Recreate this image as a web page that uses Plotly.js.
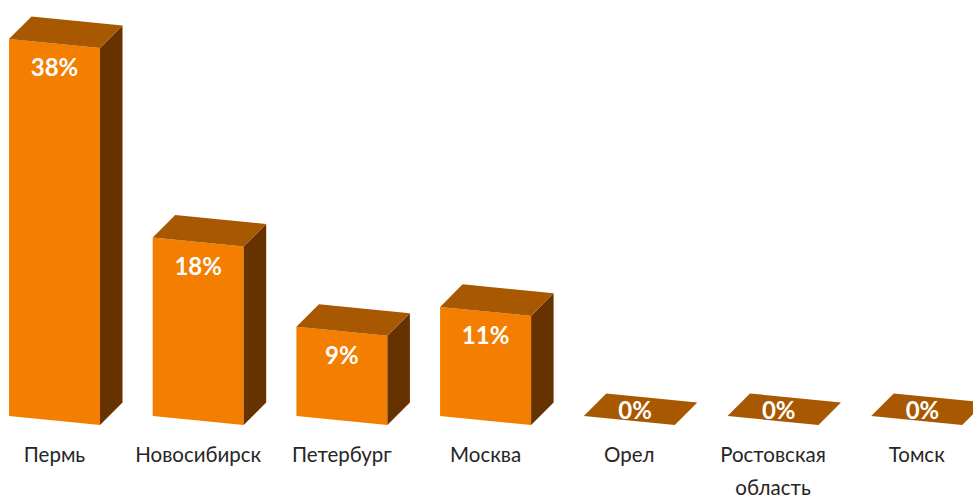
<!DOCTYPE html>
<html>
<head>
<meta charset="utf-8">
<script src="https://cdn.plot.ly/plotly-3.0.1.min.js"></script>
<style>html,body{margin:0;padding:0;background:#fff;overflow:hidden}#chart{width:973px;height:498px}</style>
</head>
<body>
<div id="chart"></div>
<script>
// Share of responses by city, in percent
const cities = ['Пермь', 'Новосибирск', 'Петербург', 'Москва', 'Орел', 'Ростовская<br>область', 'Томск'];
const shares = [38, 18, 9, 11, 0, 0, 0];
const valueLabels = ['38%', '18%', '9%', '11%', '0%', '0%', '0%'];

// Box projection, expressed in axis units
const halfWidth = 0.3166;     // half of the front face along x
const slant = 0.907;          // drop of the front face from left to right, y units
const depthX = 0.1566;        // depth offset along x
const depthY = 2.27;          // depth offset along y
const labelDrop = 2.7;        // value label below the top edge of the front face
const zeroLabelRise = 0.3;    // value label on an empty box
const zeroLabelShift = 0.04;

const positions = cities.map((_, i) => i);

// Collect polygons of one face into a single gap-separated path
function facePath(corners) {
  const xs = [], ys = [];
  positions.forEach((p, i) => {
    corners(p, shares[i]).forEach(c => { xs.push(c[0]); ys.push(c[1]); });
    xs.push(null); ys.push(null);
  });
  return {xs, ys};
}

const front = facePath((p, v) => [
  [p - halfWidth, 0], [p + halfWidth, -slant], [p + halfWidth, v - slant], [p - halfWidth, v]
]);
const side = facePath((p, v) => [
  [p + halfWidth, -slant], [p + halfWidth + depthX, -slant + depthY],
  [p + halfWidth + depthX, v - slant + depthY], [p + halfWidth, v - slant]
]);
const top_ = facePath((p, v) => [
  [p - halfWidth, v], [p + halfWidth, v - slant],
  [p + halfWidth + depthX, v - slant + depthY], [p - halfWidth + depthX, v + depthY]
]);

function faceTrace(path, color) {
  return {
    type: 'scatter', mode: 'lines', x: path.xs, y: path.ys,
    fill: 'toself', fillcolor: color,
    line: {width: 0, color: color},
    hoverinfo: 'skip', showlegend: false
  };
}

const labelX = positions.map((p, i) => shares[i] > 0 ? p : p + zeroLabelShift);
const labelY = shares.map(v => v > 0 ? v - slant / 2 - labelDrop : zeroLabelRise);

const traces = [
  faceTrace(front, '#f37e00'),
  faceTrace(side, '#663300'),
  faceTrace(top_, '#a85800'),
  {
    type: 'scatter', mode: 'text', x: labelX, y: labelY, text: valueLabels,
    textposition: 'middle center', cliponaxis: false,
    textfont: {family: 'Lato, sans-serif', size: 24, color: '#ffffff', weight: 700},
    hoverinfo: 'skip', showlegend: false
  }
];

const pxPerX = 143.7, pxPerY = 9.92, chartW = 973, baseline = 416, plotBottom = 432;

// Tick font sets the line pitch of the two-line label; the span sets the glyph size
const glyphSpan = '<span style="font-size:20.5px">';
const tickText = cities.map(c => glyphSpan + c.split('<br>').join('</span><br>' + glyphSpan) + '</span>');

const layout = {
  width: 973, height: 498,
  margin: {l: 0, r: 0, t: 0, b: 498 - plotBottom, pad: 0},
  paper_bgcolor: '#ffffff', plot_bgcolor: '#ffffff',
  showlegend: false,
  xaxis: {
    range: [-54.5 / pxPerX, (chartW - 54.5) / pxPerX],
    tickmode: 'array', tickvals: positions, ticktext: tickText,
    tickangle: 0,
    showgrid: false, zeroline: false, showline: false, ticks: '',
    ticklabelstandoff: 4,
    tickfont: {family: 'Lato, sans-serif', size: 25.4, color: '#262626'},
    fixedrange: true
  },
  yaxis: {
    range: [-(plotBottom - baseline) / pxPerY, baseline / pxPerY],
    visible: false, showgrid: false, zeroline: false, fixedrange: true
  }
};

Plotly.newPlot('chart', traces, layout, {displayModeBar: false, staticPlot: true});
</script>
</body>
</html>
